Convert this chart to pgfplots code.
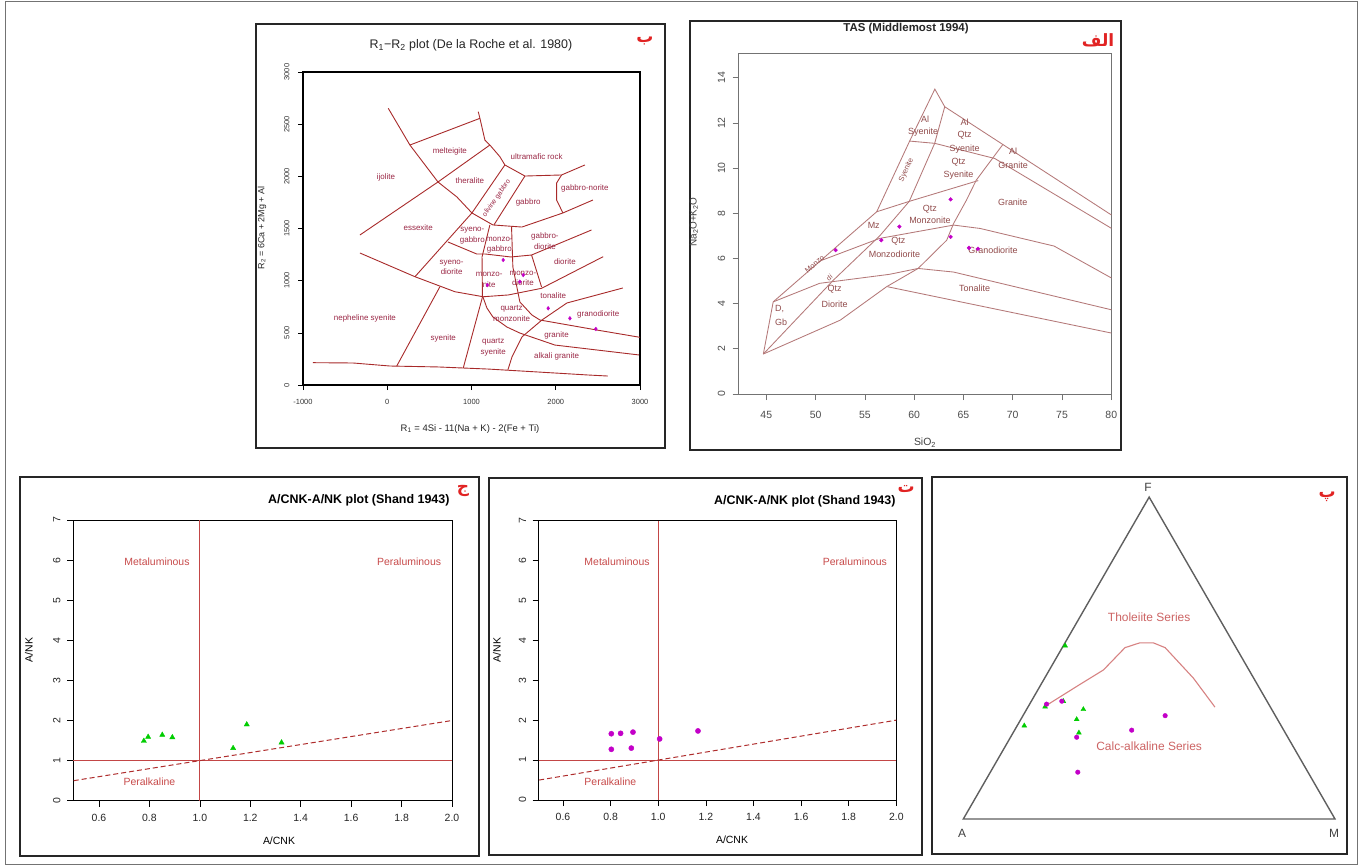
\documentclass[border=0pt]{standalone}
\usepackage{fontspec}
\setmainfont{Liberation Sans}
\newfontfamily\arabicfont[Script=Arabic]{DejaVu Sans}
\TeXXeTstate=1
\usepackage{pgfplots}
\pgfplotsset{compat=1.18}
\definecolor{rbrown}{RGB}{168,42,42}
\definecolor{rlab}{RGB}{155,40,70}
\definecolor{tasline}{RGB}{180,120,120}
\definecolor{taslab}{RGB}{145,75,75}
\definecolor{shand}{RGB}{195,70,70}
\definecolor{shandd}{RGB}{175,45,45}
\definecolor{shandtxt}{RGB}{200,75,75}
\definecolor{triline}{RGB}{95,95,95}
\definecolor{tricurve}{RGB}{215,130,130}
\definecolor{tritxt}{RGB}{205,100,100}
\definecolor{mag}{RGB}{195,0,200}
\definecolor{grn}{RGB}{0,205,0}
\definecolor{arred}{RGB}{225,35,35}
\newcommand{\fs}[1]{\fontsize{#1}{#1}\selectfont}
\newcommand{\ar}[1]{{\arabicfont\bfseries\fontsize{17}{17}\selectfont\color{arred}\beginR#1\endR}}
\pgfplotsset{
  rbase/.style={scale only axis, tick align=outside, tick pos=left,
    tick style={black, line width=0.6pt},
    /pgf/number format/assume math mode=true, clip=false},
  rl/.style={rbrown, line width=0.9pt, mark=none, solid},
  tl/.style={tasline, line width=0.85pt, mark=none, solid},
}
\begin{document}
\begin{tikzpicture}
\useasboundingbox (0,0) rectangle (1362bp,-866bp);
\fill[white] (0,0) rectangle (1362bp,-866bp);
\draw[black!55, line width=0.8pt] (5bp,-1.5bp) rectangle (1357bp,-864bp);
\draw[black!85, line width=1.6pt] (256bp,-24bp) rectangle (665bp,-448bp);
\draw[black!85, line width=1.6pt] (690bp,-21bp) rectangle (1121bp,-450bp);
\draw[black!85, line width=1.6pt] (20bp,-477bp) rectangle (479bp,-856bp);
\draw[black!85, line width=1.6pt] (489bp,-478bp) rectangle (922bp,-855bp);
\draw[black!85, line width=1.6pt] (932bp,-477bp) rectangle (1347bp,-854bp);

% ---------------- R1-R2 (De la Roche) ----------------
\begin{axis}[rbase, at={(303bp,-385bp)}, anchor=south west, width=337bp, height=313bp,
  xmin=-1000, xmax=3000, ymin=0, ymax=3000,
  xtick={-1000,0,1000,2000,3000}, ytick={0,500,1000,1500,2000,2500,3000},
  major tick length=5bp, axis line style={line width=1.2pt},
  ticklabel style={font=\fs{7.5}, text=black!80},
  yticklabel style={rotate=90, anchor=south},
  xticklabel shift=6bp, yticklabel shift=5bp,
  /pgf/number format/1000 sep={}]
\addplot[rl] coordinates {(12,2652)(269,2300)(602,1946)(827,1802)(1005,1649)};
\addplot[rl] coordinates {(1005,1649)(1254,1534)(1598,1514)(2085,1649)(2441,1773)};
\addplot[rl] coordinates {(-324,1438)(602,1946)(1218,2300)};
\addplot[rl] coordinates {(269,2300)(1100,2556)};
\addplot[rl] coordinates {(1080,2620)(1100,2556)(1159,2348)(1218,2300)(1337,2188)(1396,2109)(1634,2003)(2069,2013)(2346,2109)};
\addplot[rl] coordinates {(2069,2013)(2010,1936)(2010,1773)(2085,1649)};
\addplot[rl] coordinates {(1396,2109)(1005,1649)};
\addplot[rl] coordinates {(1634,2003)(1266,1534)};
\addplot[rl] coordinates {(1005,1649)(329,1038)};
\addplot[rl] coordinates {(-324,1265)(329,1038)(803,894)(1139,846)(1436,863)(1832,927)(2563,1230)};
\addplot[rl] coordinates {(112,181)(625,942)};
\addplot[rl] coordinates {(720,1371)(1061,1256)(1159,1256)(1468,1227)(1713,1246)(2425,1486)};
\addplot[rl] coordinates {(1218,1534)(1125,1227)(1130,843)(902,163)};
\addplot[rl] coordinates {(1475,1521)(1491,1131)(1574,796)(1717,671)(1812,623)(2488,527)(3000,457)};
\addplot[rl] coordinates {(1713,1246)(1832,939)};
\addplot[rl] coordinates {(1136,843)(1183,738)(1254,652)(1420,556)(1574,498)(1990,383)(2988,288)};
\addplot[rl] coordinates {(1432,145)(1480,268)(1598,460)(1836,623)(2132,786)(2797,930)};
\addplot[rl] coordinates {(-882,214)(-407,211)(32,182)(602,173)(1195,153)(1990,115)(2381,96)(2619,86)};
\addplot[only marks, mark=diamond*, mark size=1.9pt, mag] coordinates {(1376,1198)(1614,1054)(1574,990)(1188,958)(1910,735)(2168,639)(2476,537)};
\begin{scope}[every node/.style={font=\fontsize{8}{10.5}\selectfont, text=rlab, align=center}]
\node at (axis cs:743,2243) {melteigite};
\node at (axis cs:1773,2188) {ultramafic rock};
\node at (axis cs:-15,1991) {ijolite};
\node at (axis cs:981,1958) {theralite};
\node at (axis cs:2346,1885) {gabbro-norite};
\node at (axis cs:1673,1747) {gabbro};
\node[rotate=55, font=\fs{7}] at (axis cs:1298,1790) {olivine gabbro};
\node at (axis cs:368,1511) {essexite};
\node at (axis cs:1010,1430) {syeno-\\gabbro};
\node at (axis cs:1330,1340) {monzo-\\gabbro};
\node at (axis cs:1871,1380) {gabbro-\\diorite};
\node at (axis cs:764,1126) {syeno-\\diorite};
\node at (axis cs:1210,1006) {monzo-\\nite};
\node at (axis cs:1610,1023) {monzo-\\diorite};
\node at (axis cs:2108,1182) {diorite};
\node at (axis cs:1970,853) {tonalite};
\node at (axis cs:1476,684) {quartz\\monzonite};
\node at (axis cs:2504,680) {granodiorite};
\node at (axis cs:2010,479) {granite};
\node at (axis cs:-265,639) {nepheline syenite};
\node at (axis cs:665,447) {syenite};
\node at (axis cs:1258,362) {quartz\\syenite};
\node at (axis cs:2010,271) {alkali granite};
\end{scope}
\end{axis}

% ---------------- TAS (Middlemost 1994) ----------------
\begin{axis}[rbase, at={(738.7bp,-394bp)}, anchor=south west, width=372.6bp, height=341bp,
  xmin=42.2, xmax=80, ymin=0, ymax=15.1,
  xtick={45,50,55,60,65,70,75,80}, ytick={0,2,4,6,8,10,12,14},
  major tick length=6bp, axis line style={line width=0.8pt, black!55},
  tick style={black!55, line width=0.7pt},
  ticklabel style={font=\fs{10.5}, text=black!70},
  yticklabel style={rotate=90, anchor=south},
  xticklabel shift=8bp, yticklabel shift=4bp]
\addplot[tl] coordinates {(44.7,1.77)(45.7,4.08)(56.2,8.07)(59.54,11.2)(62.1,13.5)(63.1,12.72)(80,7.93)};
\addplot[tl] coordinates {(44.7,1.77)(51.8,5.04)(56.5,7.0)(59.5,8.53)(62.08,11.1)(63.1,12.72)};
\addplot[tl] coordinates {(44.7,1.77)(52.5,3.27)(57.2,4.75)(60.4,5.56)(63.3,6.81)(64.0,7.55)(65.3,8.58)(66.3,9.47)(69.0,11.05)};
\addplot[tl] coordinates {(56.2,8.07)(59.5,8.53)(66.5,9.45)};
\addplot[tl] coordinates {(59.54,11.2)(62.08,11.1)(68.17,10.43)(80,7.34)};
\addplot[tl] coordinates {(50.5,5.9)(56.5,6.89)(64.0,7.48)(66.7,7.33)(74.2,6.55)(80,5.14)};
\addplot[tl] coordinates {(45.7,4.08)(50.4,4.9)(57.5,5.3)(60.4,5.56)(64.0,5.4)(80,3.73)};
\addplot[tl] coordinates {(57.3,4.75)(80,2.7)};
\addplot[only marks, mark=*, mark size=1.9pt, mag] coordinates {(63.7,8.62)(58.5,7.41)(52.03,6.37)(56.67,6.81)(63.7,6.96)(65.56,6.47)(66.47,6.43)};
\begin{scope}[every node/.style={font=\fs{9}, text=taslab, inner sep=1pt}]
\node at (axis cs:61.1,12.15) {Al};
\node at (axis cs:60.9,11.6) {Syenite};
\node at (axis cs:65.12,12.05) {Al};
\node at (axis cs:65.12,11.46) {Qtz};
\node at (axis cs:65.12,10.85) {Syenite};
\node at (axis cs:70.03,10.73) {Al};
\node at (axis cs:70.03,10.14) {Granite};
\node at (axis cs:64.5,10.26) {Qtz};
\node at (axis cs:64.5,9.67) {Syenite};
\node at (axis cs:70.0,8.47) {Granite};
\node[rotate=65, font=\fs{7.5}] at (axis cs:59.2,9.92) {Syenite};
\node at (axis cs:55.9,7.48) {Mz};
\node at (axis cs:61.6,8.2) {Qtz};
\node at (axis cs:61.6,7.67) {Monzonite};
\node at (axis cs:58.4,6.77) {Qtz};
\node at (axis cs:58.0,6.18) {Monzodiorite};
\node at (axis cs:68.0,6.37) {Granodiorite};
\node at (axis cs:66.14,4.7) {Tonalite};
\node at (axis cs:51.93,4.62) {Qtz};
\node at (axis cs:51.93,3.96) {Diorite};
\node at (axis cs:46.35,3.78) {D,};
\node at (axis cs:46.5,3.17) {Gb};
\node[rotate=40, font=\fs{7.5}] at (axis cs:49.9,5.75) {Monzo};
\node[rotate=40, font=\fs{7}] at (axis cs:51.4,5.15) {di};
\end{scope}
\end{axis}

% ---------------- A/CNK-A/NK (green) ----------------
\begin{axis}[rbase, at={(73bp,-800.7bp)}, anchor=south west, width=379bp, height=280.7bp,
  xmin=0.497, xmax=2.0, ymin=0, ymax=7,
  xtick={0.6,0.8,1.0,1.2,1.4,1.6,1.8,2.0}, xticklabels={0.6,0.8,1.0,1.2,1.4,1.6,1.8,2.0},
  ytick={0,1,2,3,4,5,6,7},
  major tick length=6bp, axis line style={line width=1pt},
  ticklabel style={font=\fs{10.5}, text=black!85},
  yticklabel style={rotate=90, anchor=south},
  xticklabel shift=4bp, yticklabel shift=3bp]
\addplot[shand, line width=1pt, mark=none] coordinates {(1,0)(1,7)};
\addplot[shand, line width=1pt, mark=none] coordinates {(0.497,1)(2,1)};
\addplot[shandd, line width=1pt, mark=none, dash pattern=on 5bp off 3bp] coordinates {(0.5,0.5)(2,2)};
\addplot[only marks, mark=triangle*, mark size=3pt, grn] coordinates {(0.778,1.49)(0.795,1.59)(0.851,1.64)(0.891,1.58)(1.132,1.31)(1.186,1.90)(1.324,1.45)};
\node[font=\fs{10.5}, text=shandtxt] at (axis cs:0.83,5.95) {Metaluminous};
\node[font=\fs{10.5}, text=shandtxt] at (axis cs:1.83,5.95) {Peraluminous};
\node[font=\fs{10.5}, text=shandtxt] at (axis cs:0.80,0.47) {Peralkaline};
\end{axis}

% ---------------- A/CNK-A/NK (magenta) ----------------
\begin{axis}[rbase, at={(538.7bp,-800bp)}, anchor=south west, width=357.6bp, height=279.5bp,
  xmin=0.498, xmax=2.0, ymin=0, ymax=7,
  xtick={0.6,0.8,1.0,1.2,1.4,1.6,1.8,2.0}, xticklabels={0.6,0.8,1.0,1.2,1.4,1.6,1.8,2.0},
  ytick={0,1,2,3,4,5,6,7},
  major tick length=6bp, axis line style={line width=1pt},
  ticklabel style={font=\fs{10.5}, text=black!85},
  yticklabel style={rotate=90, anchor=south},
  xticklabel shift=4bp, yticklabel shift=3bp]
\addplot[shand, line width=1pt, mark=none] coordinates {(1,0)(1,7)};
\addplot[shand, line width=1pt, mark=none] coordinates {(0.498,1)(2,1)};
\addplot[shandd, line width=1pt, mark=none, dash pattern=on 5bp off 3bp] coordinates {(0.5,0.5)(2,2)};
\addplot[only marks, mark=*, mark size=2.6pt, mag] coordinates {(0.803,1.66)(0.803,1.27)(0.842,1.67)(0.894,1.70)(0.887,1.30)(1.006,1.53)(1.167,1.73)};
\node[font=\fs{10.5}, text=shandtxt] at (axis cs:0.827,5.96) {Metaluminous};
\node[font=\fs{10.5}, text=shandtxt] at (axis cs:1.826,5.96) {Peraluminous};
\node[font=\fs{10.5}, text=shandtxt] at (axis cs:0.799,0.46) {Peralkaline};
\end{axis}

% ---------------- AFM ternary ----------------
\begin{axis}[scale only axis, hide axis, at={(963.3bp,-819bp)}, anchor=south west,
  width=371.7bp, height=321.9bp, xmin=0, xmax=1, ymin=0, ymax=0.866, clip=false]
\addplot[triline, line width=1.4pt, mark=none, line join=miter] coordinates {(0,0)(1,0)(0.5,0.866)(0,0)(1,0)};
\addplot[tricurve, line width=1.1pt, mark=none] coordinates {(0.229,0.309)(0.312,0.361)(0.377,0.401)(0.435,0.461)(0.475,0.474)(0.511,0.474)(0.543,0.461)(0.619,0.379)(0.677,0.301)};
\addplot[only marks, mark=triangle*, mark size=2.8pt, grn] coordinates {(0.274,0.466)(0.220,0.302)(0.269,0.317)(0.323,0.295)(0.305,0.268)(0.311,0.232)(0.164,0.251)};
\addplot[only marks, mark=*, mark size=2.3pt, mag] coordinates {(0.224,0.309)(0.265,0.317)(0.543,0.278)(0.453,0.239)(0.305,0.220)(0.308,0.126)};
\node[font=\fs{12}, text=tritxt] at (axis cs:0.5,0.544) {Tholeiite Series};
\node[font=\fs{12}, text=tritxt] at (axis cs:0.5,0.195) {Calc-alkaline Series};
\end{axis}

% ---------------- titles and labels ----------------
\node[font=\fs{12.5}, text=black!85] at (471bp,-45bp) {R\textsubscript{1}−R\textsubscript{2} plot (De la Roche et al. 1980)};
\node[font=\fs{9.5}, text=black!85] at (470bp,-429bp) {R\textsubscript{1} = 4Si - 11(Na + K) - 2(Fe + Ti)};
\node[font=\fs{9}, text=black!85, rotate=90] at (262bp,-228bp) {R\textsubscript{2} = 6Ca + 2Mg + Al};
\node at (645bp,-41bp) {\ar{ب}};

\node[font=\bfseries\fs{11.5}, text=black!85] at (906bp,-29bp) {TAS (Middlemost 1994)};
\node[font=\fs{10.5}, text=black!75] at (925bp,-443bp) {SiO\textsubscript{2}};
\node[font=\fs{10}, text=black!75, rotate=90] at (694bp,-222bp) {Na\textsubscript{2}O+K\textsubscript{2}O};
\node at (1098bp,-40bp) {\ar{الف}};

\node[font=\bfseries\fs{12.5}, anchor=east] at (453bp,-500bp) {A/CNK-A/NK plot (Shand 1943)};
\node at (463bp,-491bp) {\ar{ج}};
\node[font=\fs{10.5}] at (279bp,-841bp) {A/CNK};
\node[font=\fs{10.5}, rotate=90] at (29bp,-650bp) {A/NK};

\node[font=\bfseries\fs{12.5}, anchor=east] at (899bp,-501bp) {A/CNK-A/NK plot (Shand 1943)};
\node at (906bp,-489bp) {\ar{ت}};
\node[font=\fs{10.5}] at (732bp,-840bp) {A/CNK};
\node[font=\fs{10.5}, rotate=90] at (497bp,-650bp) {A/NK};

\node[font=\fs{12}, text=black!75] at (1148bp,-487bp) {F};
\node[font=\fs{12}, text=black!75] at (962bp,-833bp) {A};
\node[font=\fs{12}, text=black!75] at (1334bp,-833bp) {M};
\node at (1327bp,-497bp) {\ar{پ}};
\end{tikzpicture}
\end{document}
